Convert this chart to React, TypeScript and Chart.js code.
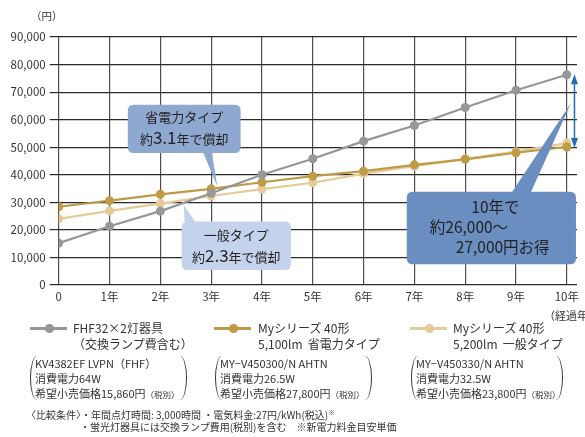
import React, { useEffect, useRef } from 'react';
import { Chart, registerables } from 'chart.js';

Chart.register(...registerables);

// ---- data ----
const years = [0, 1, 2, 3, 4, 5, 6, 7, 8, 9, 10];
const xTickLabels = ['0', '1年', '2年', '3年', '4年', '5年', '6年', '7年', '8年', '9年', '10年'];
const yMax = 90000;
const yStep = 10000;
const fhfCost = [15200, 21300, 26800, 33300, 40000, 45800, 52200, 57900, 64400, 70700, 76300];
const saveCost = [28400, 30600, 32900, 34900, 37300, 39500, 41300, 43600, 45600, 48000, 50100];
const standardCost = [24000, 26900, 29550, 32300, 34800, 37100, 40400, 43100, 45800, 48400, 51500];
const seriesNames = ['FHF32×2灯器具（交換ランプ費含む）', 'Myシリーズ 40形 5,100lm 省電力タイプ', 'Myシリーズ 40形 5,200lm 一般タイプ'];
const seriesColors = ['#979797', '#bf9a47', '#e4cb97'];

const FONT = "'Noto Sans CJK JP', 'Noto Sans', sans-serif";
const TEXT = '#333';

type Run = { t: string; size: number };
type Line = { runs: Run[]; align: 'center' | 'left'; dx: number; dy: number };
type Callout = {
  x1: number; x2: number; yTop: number; yBot: number;
  baseA: number; baseB: number; tipX: number; tipY: number;
  fill: string; lines: Line[];
};

const callouts: Callout[] = [
  {
    x1: 1.36, x2: 3.58, yTop: 65400, yBot: 47900,
    baseA: 2.83, baseB: 3.01, tipX: 3.12, tipY: 35800,
    fill: '#8ea8d0',
    lines: [
      { runs: [{ t: '省電力タイプ', size: 13 }], align: 'center', dx: 0, dy: 17 },
      { runs: [{ t: '約', size: 13 }, { t: '3.1', size: 17 }, { t: '年で償却', size: 13 }], align: 'center', dx: 0, dy: 39 },
    ],
  },
  {
    x1: 2.42, x2: 4.57, yTop: 23000, yBot: 5450,
    baseA: 2.48, baseB: 2.71, tipX: 2.46, tipY: 29000,
    fill: '#c4d3eb',
    lines: [
      { runs: [{ t: '一般タイプ', size: 13 }], align: 'center', dx: 0, dy: 18 },
      { runs: [{ t: '約', size: 13 }, { t: '2.3', size: 17 }, { t: '年で償却', size: 13 }], align: 'center', dx: 0, dy: 40 },
    ],
  },
  {
    x1: 6.85, x2: 10.18, yTop: 33800, yBot: 7500,
    baseA: 8.9, baseB: 9.28, tipX: 10.08, tipY: 66000,
    fill: '#6b8ec0',
    lines: [
      { runs: [{ t: '10年で', size: 15.5 }], align: 'center', dx: 4, dy: 21 },
      { runs: [{ t: '約26,000～', size: 15.5 }], align: 'left', dx: 23, dy: 41 },
      { runs: [{ t: '27,000円お得', size: 15.5 }], align: 'left', dx: 49, dy: 61 },
    ],
  },
];

const savingArrow = { x: 10.15, yFrom: 76500, yTo: 49700, color: '#1e6db5' };

function roundRect(ctx: CanvasRenderingContext2D, x: number, y: number, w: number, h: number, r: number) {
  ctx.beginPath();
  ctx.moveTo(x + r, y);
  ctx.lineTo(x + w - r, y);
  ctx.quadraticCurveTo(x + w, y, x + w, y + r);
  ctx.lineTo(x + w, y + h - r);
  ctx.quadraticCurveTo(x + w, y + h, x + w - r, y + h);
  ctx.lineTo(x + r, y + h);
  ctx.quadraticCurveTo(x, y + h, x, y + h - r);
  ctx.lineTo(x, y + r);
  ctx.quadraticCurveTo(x, y, x + r, y);
  ctx.closePath();
}

const calloutPlugin = {
  id: 'callouts',
  afterDatasetsDraw(chart: any) {
    const ctx: CanvasRenderingContext2D = chart.ctx;
    const xs = chart.scales.x;
    const ys = chart.scales.y;
    ctx.save();
    for (const c of callouts) {
      const L = xs.getPixelForValue(c.x1);
      const R = xs.getPixelForValue(c.x2);
      const T = ys.getPixelForValue(c.yTop);
      const B = ys.getPixelForValue(c.yBot);
      const tx = xs.getPixelForValue(c.tipX);
      const ty = ys.getPixelForValue(c.tipY);
      const ba = xs.getPixelForValue(c.baseA);
      const bb = xs.getPixelForValue(c.baseB);
      ctx.fillStyle = c.fill;
      roundRect(ctx, L, T, R - L, B - T, 6);
      ctx.fill();
      const edge = ty < T ? T + 2 : B - 2;
      ctx.beginPath();
      ctx.moveTo(ba, edge);
      ctx.lineTo(tx, ty);
      ctx.lineTo(bb, edge);
      ctx.closePath();
      ctx.fill();
      ctx.fillStyle = '#222';
      ctx.textBaseline = 'alphabetic';
      ctx.textAlign = 'left';
      for (const ln of c.lines) {
        let total = 0;
        for (const r of ln.runs) {
          ctx.font = `${r.size}px ${FONT}`;
          total += ctx.measureText(r.t).width;
        }
        let x = ln.align === 'center' ? (L + R) / 2 - total / 2 + ln.dx : L + ln.dx;
        for (const r of ln.runs) {
          ctx.font = `${r.size}px ${FONT}`;
          ctx.fillText(r.t, x, T + ln.dy);
          x += ctx.measureText(r.t).width;
        }
      }
    }
    // double arrow
    const ax = xs.getPixelForValue(savingArrow.x);
    const a1 = ys.getPixelForValue(savingArrow.yFrom);
    const a2 = ys.getPixelForValue(savingArrow.yTo);
    ctx.strokeStyle = savingArrow.color;
    ctx.fillStyle = savingArrow.color;
    ctx.lineWidth = 1.5;
    ctx.beginPath();
    ctx.moveTo(ax, a1 + 8);
    ctx.lineTo(ax, a2 - 8);
    ctx.stroke();
    ctx.beginPath();
    ctx.moveTo(ax, a1);
    ctx.lineTo(ax - 3.5, a1 + 10);
    ctx.lineTo(ax + 3.5, a1 + 10);
    ctx.closePath();
    ctx.fill();
    ctx.beginPath();
    ctx.moveTo(ax, a2);
    ctx.lineTo(ax - 3.5, a2 - 10);
    ctx.lineTo(ax + 3.5, a2 - 10);
    ctx.closePath();
    ctx.fill();
    ctx.restore();
  },
};

const abs = (left: number, top: number, extra: React.CSSProperties = {}): React.CSSProperties => ({
  position: 'absolute', left, top, whiteSpace: 'nowrap', ...extra,
});

function Marker({ left, top, color }: { left: number; top: number; color: string }) {
  return (
    <div style={abs(left, top, { width: 37, height: 8 })}>
      <div style={{ position: 'absolute', left: 0, top: 3, width: 37, height: 2.5, background: color }} />
      <div style={{ position: 'absolute', left: 15, top: 0, width: 8.5, height: 8.5, borderRadius: '50%', background: color }} />
    </div>
  );
}

function Paren({ left, top, side }: { left: number; top: number; side: 'l' | 'r' }) {
  const s: React.CSSProperties = side === 'l'
    ? { borderLeft: '1.6px solid #333', borderRadius: '7px 0 0 7px / 22px 0 0 22px' }
    : { borderRight: '1.6px solid #333', borderRadius: '0 7px 7px 0 / 0 22px 22px 0' };
  return <div style={abs(left, top, { width: 6, height: 44, ...s })} />;
}

const specLines = [
  ['KV4382EF LVPN（FHF）', '消費電力64W', '希望小売価格15,860円'],
  ['MY−V450300/N AHTN', '消費電力26.5W', '希望小売価格27,800円'],
  ['MY−V450330/N AHTN', '消費電力32.5W', '希望小売価格23,800円'],
];

export default function App() {
  const ref = useRef<HTMLCanvasElement | null>(null);
  useEffect(() => {
    if (!ref.current) return;
    const mk = (vals: number[]) => years.map((x, i) => ({ x, y: vals[i] }));
    const ds = [fhfCost, saveCost, standardCost].map((vals, i) => ({
      label: seriesNames[i],
      data: mk(vals),
      borderColor: seriesColors[i],
      backgroundColor: seriesColors[i],
      pointBackgroundColor: seriesColors[i],
      pointBorderWidth: 0,
      pointRadius: 4.5,
      borderWidth: 2.2,
      tension: 0,
    }));
    const chart = new Chart(ref.current, {
      type: 'line',
      data: { datasets: ds },
      options: {
        animation: false,
        responsive: false,
        devicePixelRatio: 1,
        layout: { padding: { left: 0, right: 8, top: 37, bottom: 132 } },
        plugins: { legend: { display: false }, tooltip: { enabled: false } },
        scales: {
          x: {
            type: 'linear',
            min: 0,
            max: 10.2,
            border: { display: false },
            grid: { color: '#505050', lineWidth: 1.2, drawTicks: false },
            ticks: {
              stepSize: 1,
              includeBounds: false,
              autoSkip: false,
              maxRotation: 0,
              padding: 5,
              color: TEXT,
              font: { family: FONT, size: 11.5 },
              callback: (v: any) => xTickLabels[v] ?? '',
            },
            afterFit: (s: any) => { s.height = 20; s.paddingLeft = 0; s.paddingRight = 0; },
          },
          y: {
            min: 0,
            max: yMax,
            border: { display: false },
            grid: { color: '#2a2a2a', lineWidth: 1.2, tickLength: 9 },
            ticks: {
              stepSize: yStep,
              padding: 4,
              color: TEXT,
              font: { family: FONT, size: 11.5 },
              callback: (v: any) => Number(v).toLocaleString('en-US'),
            },
            afterFit: (s: any) => { s.width = 58.7; s.paddingTop = 0; s.paddingBottom = 0; },
          },
        },
      },
      plugins: [calloutPlugin],
    } as any);
    return () => chart.destroy();
  }, []);

  const t12: React.CSSProperties = { fontSize: 12, lineHeight: '16px', color: TEXT };
  const t11: React.CSSProperties = { fontSize: 11, lineHeight: '15px', color: TEXT };
  const small: React.CSSProperties = { fontSize: 8.5 };
  const note: React.CSSProperties = { fontSize: 10, lineHeight: '12px', height: 12, color: TEXT };

  return (
    <div style={{ position: 'absolute', left: 0, top: 0, width: 585, height: 437, overflow: 'hidden', background: '#fff', fontFamily: FONT }}>
      <canvas ref={ref} width={585} height={437} style={{ position: 'absolute', left: 0, top: 0, width: 585, height: 437 }} />
      <div style={abs(31, 8, { fontSize: 10.5, color: TEXT })}>（円）</div>
      <div style={abs(544, 307, { fontSize: 11, color: TEXT })}>（経過年数）</div>

      <Marker left={30} top={324} color={seriesColors[0]} />
      <div style={abs(73, 320, t12)}>FHF32×2灯器具<br />（交換ランプ費含む）</div>
      <Marker left={214} top={324} color={seriesColors[1]} />
      <div style={abs(258, 320, t12)}>Myシリーズ 40形<br />5,100lm&nbsp;&nbsp;省電力タイプ</div>
      <Marker left={410} top={324} color={seriesColors[2]} />
      <div style={abs(453, 320, t12)}>Myシリーズ 40形<br />5,200lm&nbsp;&nbsp;一般タイプ</div>

      <Paren left={30} top={356} side="l" />
      <div style={abs(35, 355.5, t11)}>{specLines[0][0]}<br />{specLines[0][1]}<br />{specLines[0][2]}<span style={small}>（税別）</span></div>
      <Paren left={180} top={356} side="r" />
      <Paren left={215} top={356} side="l" />
      <div style={abs(220, 355.5, t11)}>{specLines[1][0]}<br />{specLines[1][1]}<br />{specLines[1][2]}<span style={small}>（税別）</span></div>
      <Paren left={365} top={356} side="r" />
      <Paren left={411} top={356} side="l" />
      <div style={abs(416, 355.5, t11)}>{specLines[2][0]}<br />{specLines[2][1]}<br />{specLines[2][2]}<span style={small}>（税別）</span></div>
      <Paren left={556} top={356} side="r" />

      <div style={abs(26, 409, note)}>〈比較条件〉・年間点灯時間: 3,000時間 ・電気料金:27円/kWh(税込)<span style={{ fontSize: 6.5, position: 'relative', top: -4 }}>※</span></div>
      <div style={abs(80, 421, note)}>・蛍光灯器具には交換ランプ費用(税別)を含む　※新電力料金目安単価</div>
    </div>
  );
}
